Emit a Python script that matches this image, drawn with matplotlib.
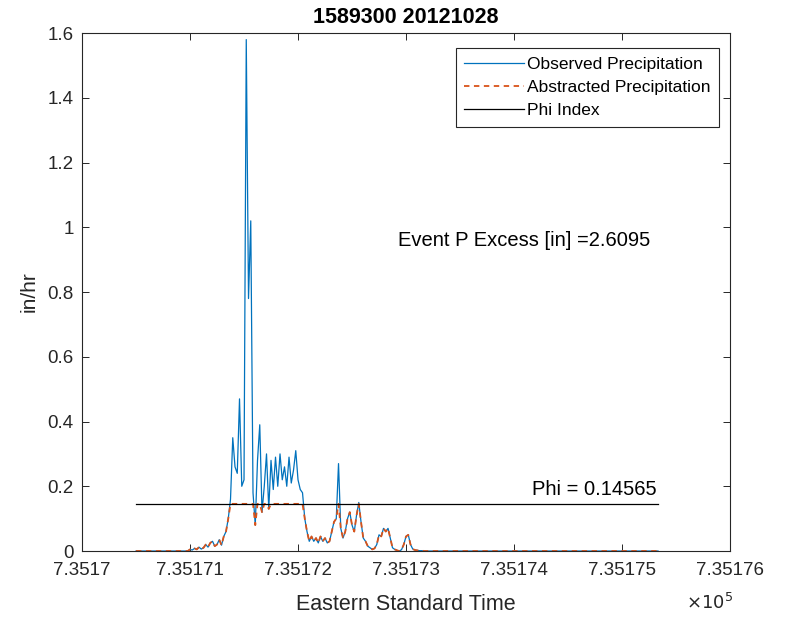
import numpy as np
import matplotlib.pyplot as plt

plt.rcParams['font.family'] = ['Liberation Sans', 'DejaVu Sans']

# half-hourly samples starting at 735170.5 (datenum days)
t_start = 735170.5
dt = 1.0 / 48
lead_zeros = 22
active = [0.0, 0.0, 0.005, 0.003, 0.008, 0.005, 0.012, 0.006, 0.01, 0.02,
          0.012, 0.025, 0.03, 0.015, 0.02, 0.035, 0.018, 0.045, 0.06, 0.1,
          0.16, 0.35, 0.26, 0.24, 0.47, 0.2, 0.22, 1.58, 0.78, 1.02,
          0.18, 0.08, 0.28, 0.39, 0.12, 0.2, 0.3, 0.13, 0.28, 0.19,
          0.29, 0.2, 0.3, 0.22, 0.26, 0.2, 0.29, 0.21, 0.25, 0.31,
          0.22, 0.19, 0.18, 0.1, 0.06, 0.03, 0.045, 0.03, 0.04, 0.025,
          0.045, 0.03, 0.04, 0.025, 0.03, 0.06, 0.09, 0.1, 0.27, 0.07,
          0.04, 0.06, 0.1, 0.12, 0.08, 0.06, 0.11, 0.15, 0.09, 0.04,
          0.03, 0.015, 0.01, 0.005, 0.008, 0.02, 0.05, 0.045, 0.07, 0.06,
          0.07, 0.04, 0.01, 0.005, 0.002, 0.0, 0.004, 0.02, 0.045, 0.05,
          0.02, 0.006, 0.003, 0.002, 0.001, 0.001, 0.0]
tail_zeros = 104
obs = np.array([0.0] * lead_zeros + active + [0.0] * tail_zeros)
t = t_start + dt * np.arange(len(obs))

phi = 0.14565
p_excess = 2.6095
abstracted = np.minimum(obs, phi)

x_ticks = [735170, 735171, 735172, 735173, 735174, 735175, 735176]
y_ticks = [0, 0.2, 0.4, 0.6, 0.8, 1.0, 1.2, 1.4, 1.6]

fig = plt.figure(figsize=(7.9, 6.18), dpi=100)
ax = fig.add_axes([0.1038, 0.1084, 0.8203, 0.838])

ax.plot(t, obs, color='#0072BD', lw=0.9, label='Observed Precipitation')
ax.plot(t, abstracted, color='#D95319', lw=1.3, ls='--', dashes=(3, 2.5),
        label='Abstracted Precipitation')
ax.plot([t[0], t[-1]], [phi, phi], color='k', lw=0.9, label='Phi Index')

ax.text(735172.93, 0.96, 'Event P Excess [in] =%.4f' % p_excess,
        fontsize=14.5, va='center', ha='left')
ax.text(735174.17, 0.19, 'Phi = %.5f' % phi, fontsize=14.5, va='center', ha='left')

ax.set_xlim(735170, 735176)
ax.set_ylim(0, 1.6)
ax.set_xticks(x_ticks)
ax.set_xticklabels(['%g' % (v / 1e5) for v in x_ticks])
ax.set_yticks(y_ticks)
ax.set_yticklabels(['%g' % v for v in y_ticks])
ax.tick_params(direction='in', top=True, right=True, labelsize=13.5,
               colors='#262626', length=5, width=0.7)
ax.tick_params(axis='x', pad=8)
ax.tick_params(axis='y', pad=6)
for s in ax.spines.values():
    s.set_color('#262626')
    s.set_linewidth(0.8)

ax.set_title('1589300 20121028', fontsize=15.5, fontweight='bold', pad=7)
ax.set_xlabel('Eastern Standard Time', fontsize=15.5, color='#262626', labelpad=11)
ax.set_ylabel('in/hr', fontsize=15, color='#262626', labelpad=6)
ax.text(1.005, -0.1, r'$\times10^5$', transform=ax.transAxes, ha='right',
        va='center', fontsize=13, color='#262626')

leg = ax.legend(loc='upper right', bbox_to_anchor=(1 - 11 / 651, 1 - 15 / 518),
                borderaxespad=0, fontsize=12.5, fancybox=False,
                edgecolor='#262626', framealpha=1,
                handlelength=3.45, handletextpad=0.15, labelspacing=0.45,
                borderpad=0.5)
leg.get_frame().set_linewidth(0.8)

fig.savefig('out.png', dpi=100)
